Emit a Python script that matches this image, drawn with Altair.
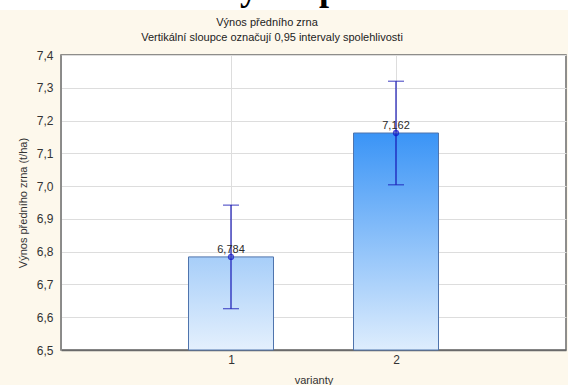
import altair as alt
import pandas as pd

# Group means and 0.95 confidence limits
variants = [1, 2]
means = [6.784, 7.162]
ci_low = [6.626, 7.004]
ci_high = [6.942, 7.320]
bar_top = ["#a7cef9", "#3a94f6"]
bar_bottom = ["#e4f0fd", "#deedfd"]

y_ticks = [6.5, 6.6, 6.7, 6.8, 6.9, 7.0, 7.1, 7.2, 7.3, 7.4]

title_text = "Výnos předního zrna"
subtitle_text = "Vertikální sloupce označují 0,95 intervaly spolehlivosti"
heading_text = "Výnos předního zrna"

FONT = "Liberation Sans"
W, H = 505, 295

df = pd.DataFrame({"varianta": variants, "prumer": means, "dolni": ci_low, "horni": ci_high})
df["popisek"] = [f"{m:.3f}".replace(".", ",") for m in means]
df["base"] = 6.5

x_scale = alt.Scale(domain=[0, 3], nice=False)
x_axis = alt.Axis(values=variants, format="d", title="varianty", grid=True,
                  gridColor="#dddddd", tickSize=0, labelPadding=4,
                  titlePadding=9, domainColor="#6a6a6a", domainWidth=1.5)
y_scale = alt.Scale(domain=[6.5, 7.4], nice=False, zero=False)
y_axis = alt.Axis(values=y_ticks, title="Výnos předního zrna (t/ha)", grid=True,
                  gridColor="#dddddd", tickSize=0, labelPadding=8,
                  labelOverlap=False, labelBound=False, labelFlush=False,
                  labelExpr="replace(format(datum.value, '.1f'), '.', ',')",
                  titlePadding=8, domainColor="#8a8a8a")


def X():
    return alt.X("varianta:Q", scale=x_scale, axis=x_axis)


def Y(field):
    return alt.Y(f"{field}:Q", scale=y_scale, axis=y_axis)


base = alt.Chart(df)
one = pd.DataFrame({"k": [0]})

# white strip above the beige page panel
strip = alt.Chart(one).mark_rect(color="#ffffff").encode(
    x=alt.value(-61), x2=alt.value(W + 2), y=alt.value(-55), y2=alt.value(-45))

# large page heading running off the top edge
heading = alt.Chart(pd.DataFrame({"t": [heading_text]})).mark_text(
    font="Liberation Serif", fontWeight="bold", fontSize=36, align="left",
    baseline="alphabetic", color="#000000").encode(
    text="t:N", x=alt.value(153), y=alt.value(-55))

title = alt.Chart(pd.DataFrame({"t": [title_text]})).mark_text(
    font=FONT, fontSize=11, color="#222222", align="center", baseline="middle").encode(
    text="t:N", x=alt.value(206), y=alt.value(-32))
subtitle = alt.Chart(pd.DataFrame({"t": [subtitle_text]})).mark_text(
    font=FONT, fontSize=11, color="#222222", align="center", baseline="middle").encode(
    text="t:N", x=alt.value(211), y=alt.value(-17))

bars = []
for i, v in enumerate(variants):
    bars.append(
        base.transform_filter(alt.datum.varianta == v).mark_bar(
            size=85, stroke="#4f74ad", strokeWidth=1,
            color=alt.Gradient(gradient="linear", x1=0, x2=0, y1=0, y2=1,
                               stops=[alt.GradientStop(color=bar_top[i], offset=0),
                                      alt.GradientStop(color=bar_bottom[i], offset=1)]))
        .encode(x=X(), y=Y("prumer"), y2="base:Q")
    )

err = "#1616b4"
whisker = base.mark_rule(color=err, strokeWidth=1.2).encode(
    x=X(), y=Y("dolni"), y2="horni:Q")
cap_lo = base.mark_tick(color=err, orient="horizontal", size=16, thickness=1.2).encode(
    x=X(), y=Y("dolni"))
cap_hi = base.mark_tick(color=err, orient="horizontal", size=16, thickness=1.2).encode(
    x=X(), y=Y("horni"))
dot = base.mark_point(color="#1010c8", size=22, strokeWidth=1.6, filled=False).encode(
    x=X(), y=Y("prumer"))
labels = base.mark_text(font=FONT, fontSize=11, color="#2a2a2a", baseline="alphabetic", dy=-4).encode(
    x=X(), y=Y("prumer"), text="popisek:N")

chart = alt.layer(*bars, whisker, cap_lo, cap_hi, dot, labels,
                  strip, heading, title, subtitle).properties(
    width=W, height=H,
    autosize=alt.AutoSizeParams(type="none"),
    padding={"left": 61, "top": 55, "right": 2, "bottom": 35},
    background="#fdf8ec",
).configure_view(
    stroke="#6a6a6a", strokeWidth=1.5, fill="#ffffff"
).configure_axis(
    labelFont=FONT, labelFontSize=12, labelColor="#333333",
    titleFont=FONT, titleFontSize=11, titleColor="#333333", titleFontWeight="normal",
)

chart.save("out.html", embed_options={"renderer": "svg", "actions": False})
